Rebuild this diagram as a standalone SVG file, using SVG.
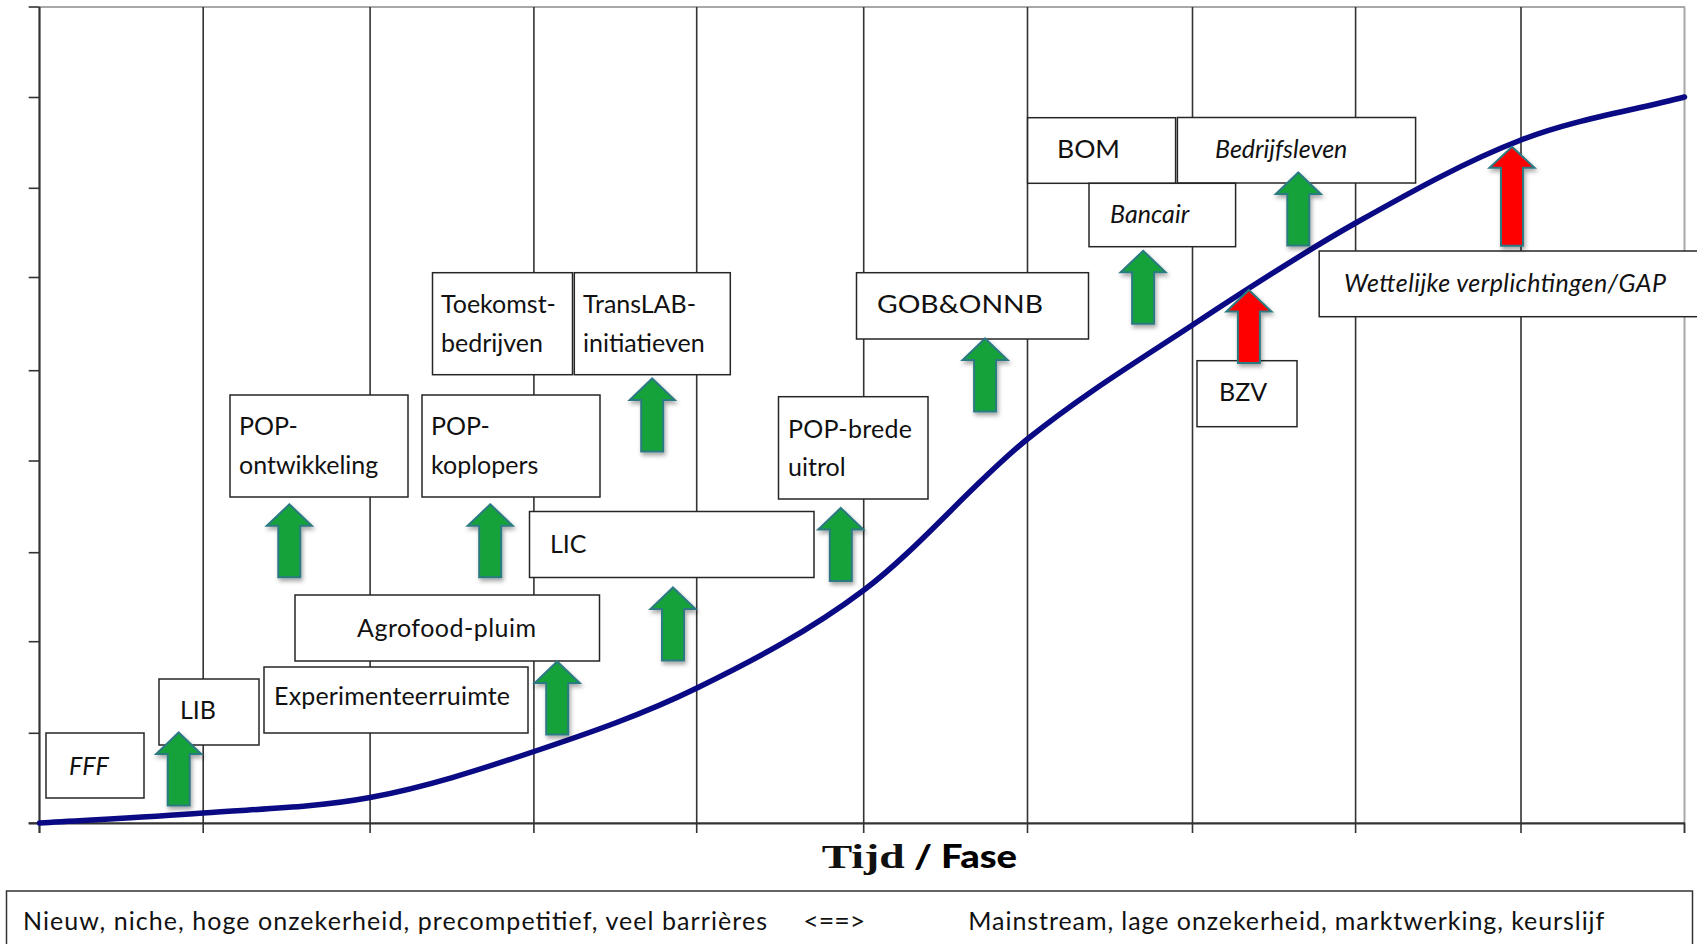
<svg xmlns="http://www.w3.org/2000/svg" xmlns:xlink="http://www.w3.org/1999/xlink" width="1697" height="944" viewBox="0 0 1697 944">
<style>
.grid{stroke:#333;stroke-width:1.6;fill:none}
.frame{stroke:#a8a8a8;stroke-width:2;fill:none}
.axis{stroke:#333;stroke-width:2.2;fill:none}
.curve{stroke:#0a0a84;stroke-width:5.5;fill:none;stroke-linecap:round}
.box{fill:#fff;stroke:#262626;stroke-width:1.5}
.lbl{font-family:Lato,"Open Sans",sans-serif;font-size:25px;fill:#111}
.it{font-style:italic}
.green{fill:#18a23b;stroke:#2c7a82;stroke-width:2}
.red{fill:#ff0000;stroke:#2c7a82;stroke-width:2}
</style>
<defs>
<filter id="sh" x="-50%" y="-30%" width="200%" height="170%">
<feDropShadow dx="1.5" dy="3" stdDeviation="2" flood-color="#000" flood-opacity="0.35"/>
</filter>
<path id="arr" d="M0,0 L22.5,21.5 L11,21.5 L11,73 L-11,73 L-11,21.5 L-22.5,21.5 Z"/>
<path id="arrL" d="M0,0 L22.5,21 L11,21 L11,99 L-11,99 L-11,21 L-22.5,21 Z"/>
</defs>
<rect width="1697" height="944" fill="#fff"/>

<g id="chart">
<line class="frame" x1="39.5" y1="7" x2="1685" y2="7"/>
<line class="frame" x1="1684.5" y1="7" x2="1684.5" y2="833"/>
<g class="grid">
<line x1="203.2" y1="7" x2="203.2" y2="833"/>
<line x1="370.1" y1="7" x2="370.1" y2="833"/>
<line x1="533.9" y1="7" x2="533.9" y2="833"/>
<line x1="696.7" y1="7" x2="696.7" y2="833"/>
<line x1="863.7" y1="7" x2="863.7" y2="833"/>
<line x1="1027.5" y1="7" x2="1027.5" y2="833"/>
<line x1="1192.5" y1="7" x2="1192.5" y2="833"/>
<line x1="1355.6" y1="7" x2="1355.6" y2="833"/>
<line x1="1521" y1="7" x2="1521" y2="833"/>
<line x1="1684.5" y1="823" x2="1684.5" y2="833"/>
<line x1="28.7" y1="7" x2="39.5" y2="7"/>
<line x1="28.7" y1="97.5" x2="39.5" y2="97.5"/>
<line x1="28.7" y1="188.3" x2="39.5" y2="188.3"/>
<line x1="28.7" y1="277.5" x2="39.5" y2="277.5"/>
<line x1="28.7" y1="370.7" x2="39.5" y2="370.7"/>
<line x1="28.7" y1="461" x2="39.5" y2="461"/>
<line x1="28.7" y1="552.7" x2="39.5" y2="552.7"/>
<line x1="28.7" y1="641.7" x2="39.5" y2="641.7"/>
<line x1="28.7" y1="733.3" x2="39.5" y2="733.3"/>
<line x1="28.7" y1="823.3" x2="39.5" y2="823.3"/>
</g>
<line class="axis" x1="39.5" y1="7" x2="39.5" y2="833"/>
<line class="axis" x1="28.7" y1="823.3" x2="1685" y2="823.3"/>
<path class="curve" d="M39.5,823 C94,819.7 147.9,817.3 203,813 C258.1,808.8 314.8,807.8 370,797.5 C425.2,787.3 479.5,769.8 534,751.5 C588.5,733.3 642,714.9 697,688 C752,661.1 808.9,631.5 864,590 C919.1,548.5 972.8,483.2 1027.5,439 C1082.3,394.8 1137.8,361 1192.5,325 C1247.2,289 1300.9,253.8 1355.6,223 C1410.4,192.2 1466.2,161 1521,140 C1575.8,119 1630,111.3 1684.5,97"/>
</g>

<g id="node-fff"><rect class="box" x="46" y="733" width="98" height="65"/><text class="lbl it" x="69" y="775">FFF</text></g>
<g id="node-lib"><rect class="box" x="159" y="679" width="100" height="66"/><text class="lbl" x="180" y="719">LIB</text></g>
<g id="node-experimenteerruimte"><rect class="box" x="264" y="667" width="264" height="66"/><text class="lbl" x="274" y="705" textLength="236">Experimenteerruimte</text></g>
<g id="node-agrofood"><rect class="box" x="295" y="595" width="304.5" height="66"/><text class="lbl" x="357" y="637" textLength="179">Agrofood-pluim</text></g>
<g id="node-pop-ontwikkeling"><rect class="box" x="230" y="395" width="178" height="102"/><text class="lbl" x="239" y="435">POP-</text><text class="lbl" x="239" y="474">ontwikkeling</text></g>
<g id="node-pop-koplopers"><rect class="box" x="422" y="395" width="178" height="102"/><text class="lbl" x="431" y="435">POP-</text><text class="lbl" x="431" y="474">koplopers</text></g>
<g id="node-lic"><rect class="box" x="529.5" y="511.5" width="284.5" height="66"/><text class="lbl" x="550" y="553">LIC</text></g>
<g id="node-toekomst"><rect class="box" x="432.5" y="272.7" width="140" height="102"/><text class="lbl" x="441" y="313">Toekomst-</text><text class="lbl" x="441" y="352">bedrijven</text></g>
<g id="node-translab"><rect class="box" x="574.3" y="272.7" width="156" height="102"/><text class="lbl" x="583" y="313">TransLAB-</text><text class="lbl" x="583" y="352">initiatieven</text></g>
<g id="node-pop-brede"><rect class="box" x="778.5" y="396.7" width="149.5" height="102.3"/><text class="lbl" x="788" y="438" textLength="124">POP-brede</text><text class="lbl" x="788" y="476">uitrol</text></g>
<g id="node-gob"><rect class="box" x="856.5" y="272.7" width="232" height="66.3"/><text class="lbl" x="877" y="313" textLength="166" lengthAdjust="spacingAndGlyphs">GOB&amp;ONNB</text></g>
<g id="node-bom"><rect class="box" x="1027.6" y="117.7" width="148" height="65.6"/><text class="lbl" x="1057" y="158" textLength="63" lengthAdjust="spacingAndGlyphs">BOM</text></g>
<g id="node-bedrijfsleven"><rect class="box" x="1177.4" y="117.5" width="238.2" height="65.5"/><text class="lbl it" x="1215" y="158">Bedrijfsleven</text></g>
<g id="node-bancair"><rect class="box" x="1089" y="183.3" width="146.6" height="63.4"/><text class="lbl it" x="1110" y="223">Bancair</text></g>
<g id="node-bzv"><rect class="box" x="1197" y="360.7" width="100" height="66"/><text class="lbl" x="1219" y="401">BZV</text></g>
<g id="node-wettelijke"><rect class="box" x="1319.2" y="251" width="385" height="65.7"/><text class="lbl it" x="1344" y="292" textLength="322">Wettelijke verplichtingen/GAP</text></g>

<g id="connectors" filter="url(#sh)">
<use href="#arr" class="green" x="178.7" y="732.5"/>
<use href="#arr" class="green" x="289.3" y="504.3"/>
<use href="#arr" class="green" x="490.2" y="504.3"/>
<use href="#arr" class="green" x="557.2" y="661.5"/>
<use href="#arr" class="green" x="673" y="587.5"/>
<use href="#arr" class="green" x="652.2" y="378.5"/>
<use href="#arr" class="green" x="840.8" y="508"/>
<use href="#arr" class="green" x="985.1" y="338.5"/>
<use href="#arr" class="green" x="1143.1" y="250.8"/>
<use href="#arr" class="green" x="1298.3" y="172.5"/>
<use href="#arr" class="red" x="1248.9" y="290"/>
<use href="#arrL" class="red" x="1512" y="146.8"/>
</g>

<g id="axis-title">
<text x="821.7" y="868.3" font-family="'Liberation Serif',serif" font-weight="bold" font-size="34" fill="#111" textLength="83" lengthAdjust="spacingAndGlyphs">Tijd</text>
<text x="914" y="868.3" font-family="Lato,sans-serif" font-weight="900" font-size="33" fill="#000" textLength="103" lengthAdjust="spacingAndGlyphs">/ Fase</text>
</g>

<g id="legend">
<rect x="6.5" y="891" width="1686" height="70" fill="#fff" stroke="#333" stroke-width="1.5"/>
<text class="lbl" x="23" y="930" textLength="744">Nieuw, niche, hoge onzekerheid, precompetitief, veel barrières</text>
<text class="lbl" x="803.3" y="930" textLength="62" lengthAdjust="spacingAndGlyphs">&lt;==&gt;</text>
<text class="lbl" x="968.3" y="930" textLength="636">Mainstream, lage onzekerheid, marktwerking, keurslijf</text>
</g>
</svg>
